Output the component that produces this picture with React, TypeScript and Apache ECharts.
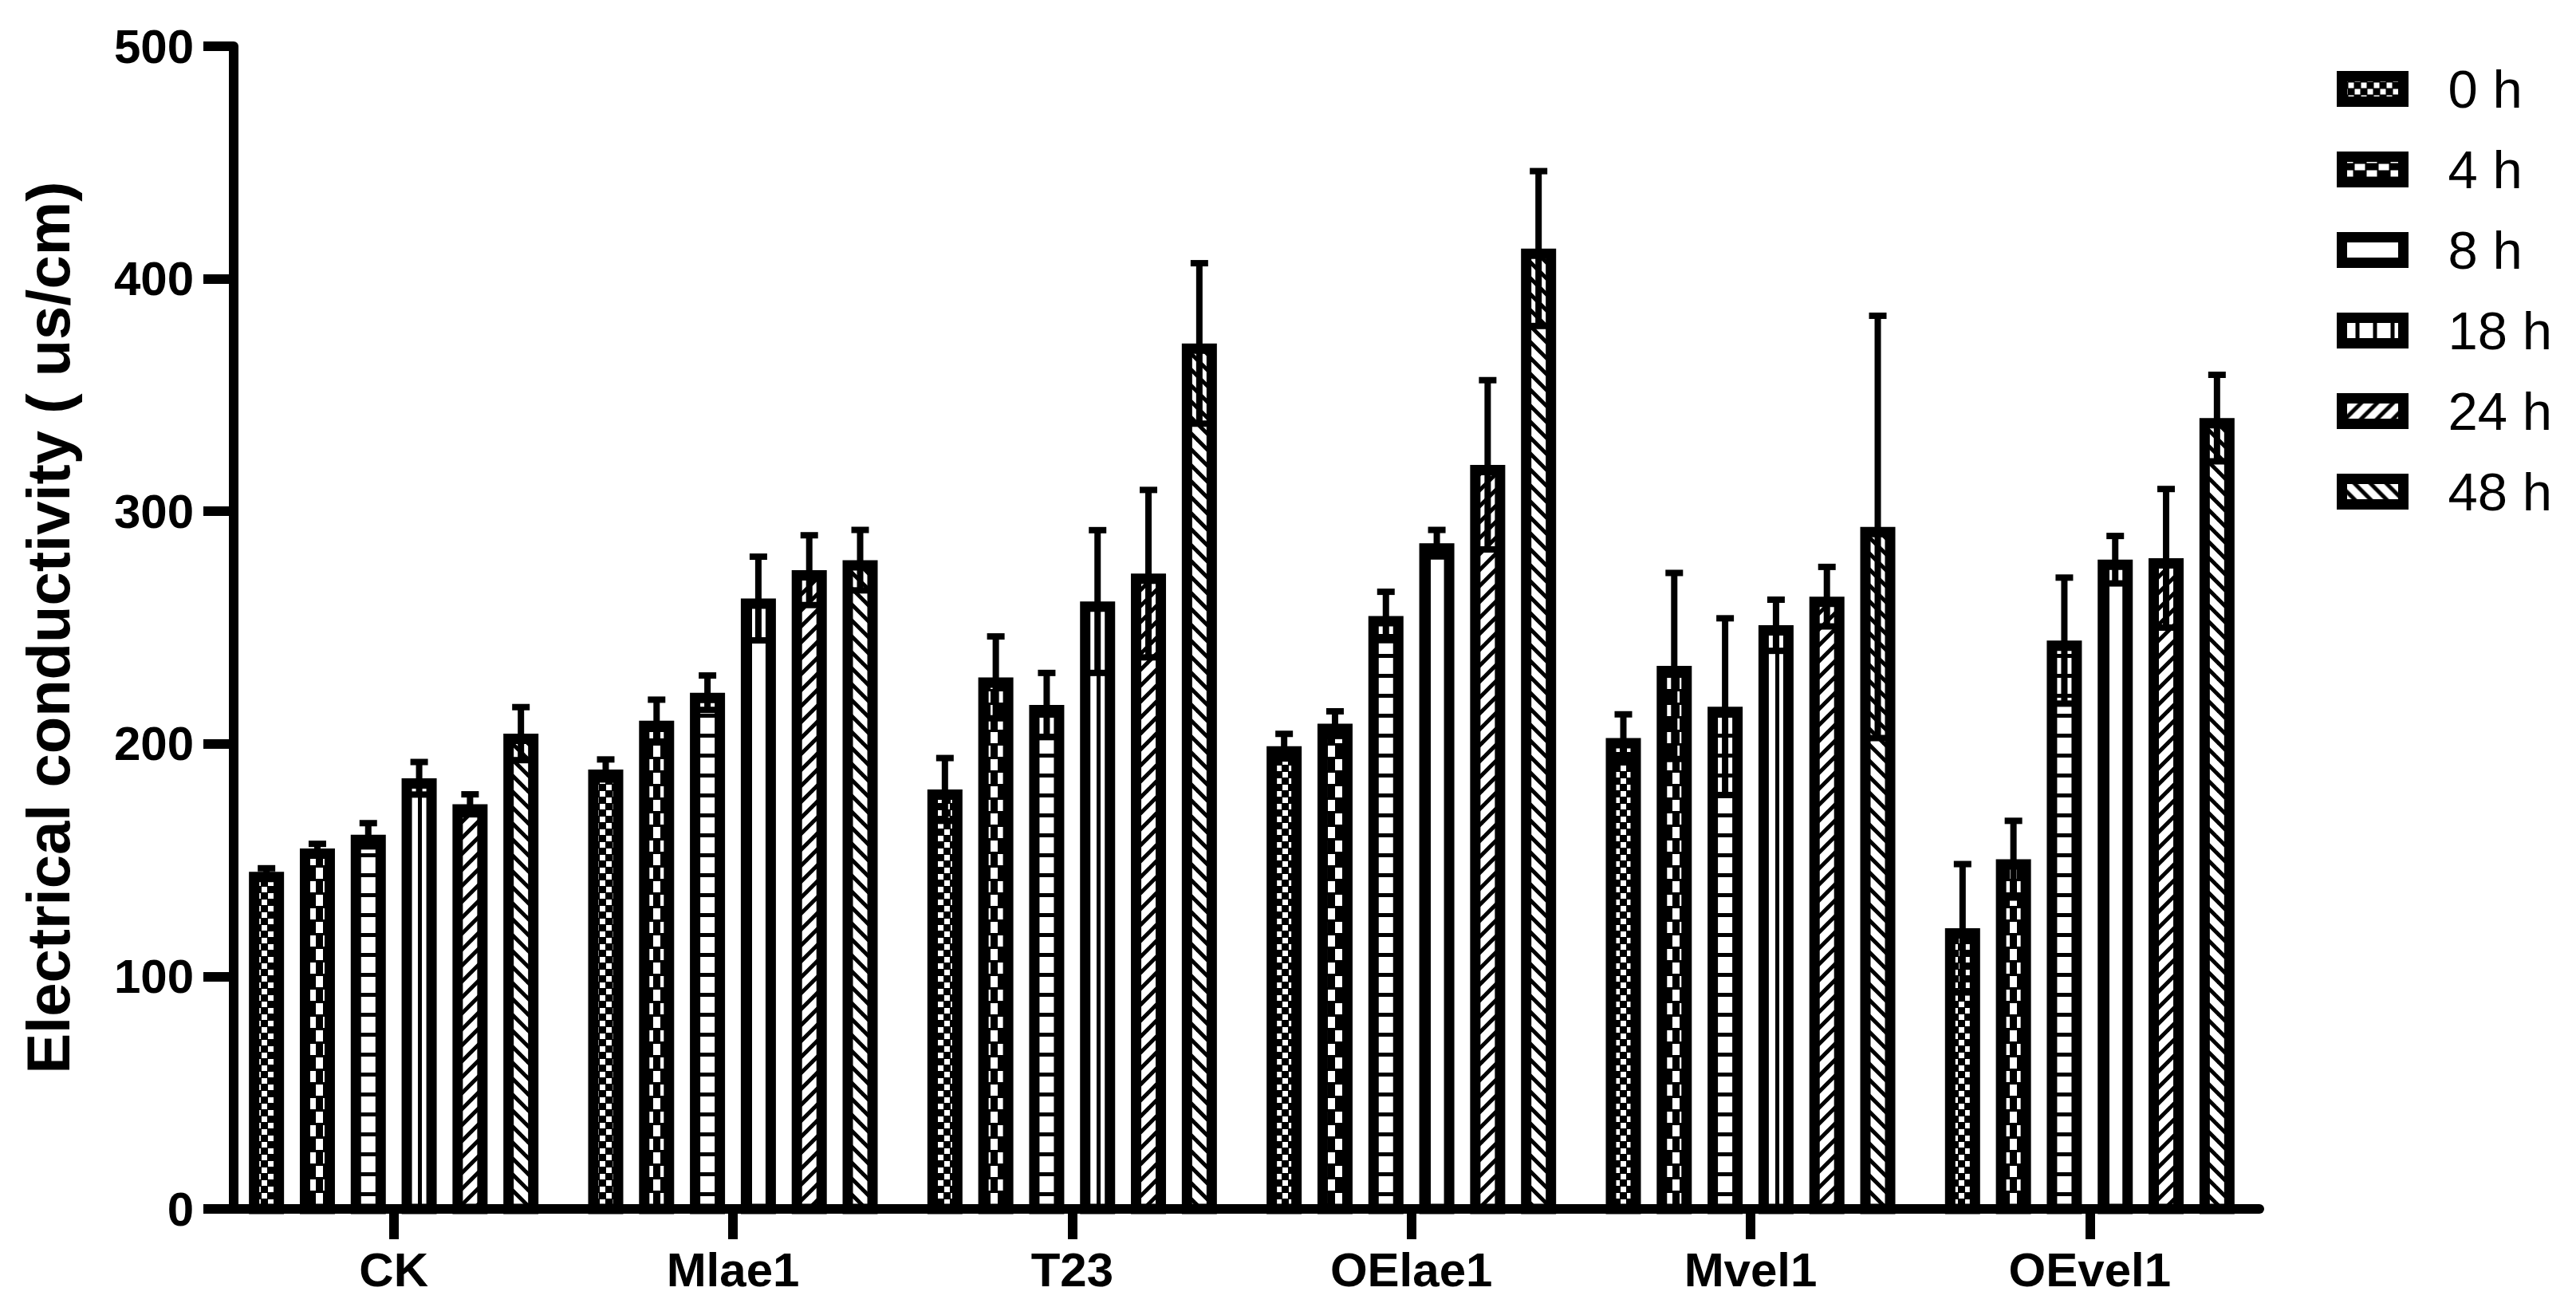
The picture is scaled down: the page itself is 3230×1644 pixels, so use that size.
import React, { useEffect, useRef } from "react";
import * as echarts from "echarts";

// ---------------- data ----------------
const categories = ["CK", "Mlae1", "T23", "OElae1", "Mvel1", "OEvel1"];
const timePoints = ["0 h", "4 h", "8 h", "18 h", "24 h", "48 h"];

const yMin = 0;
const yMax = 500;
const yInterval = 100;

const mean0h = [145, 189, 180.4, 199, 202.5, 120.7];
const mean4h = [155, 210, 228.6, 208.7, 233.5, 150.4];
const mean8h = [160.9, 222, 216.7, 255, 216, 244.4];
const mean18h = [185.2, 262.5, 261.2, 286.3, 251, 279.2];
const mean24h = [174, 274.7, 273.2, 320, 263.3, 279.8];
const mean48h = [204.4, 279, 372.2, 413, 293.3, 340.1];

const sd0h = [1.5, 4.3, 13.5, 5.3, 10.2, 27.6];
const sd4h = [2, 9, 17.6, 5.3, 40, 16.5];
const sd8h = [5, 7.4, 13.8, 10.4, 38, 27.1];
const sd18h = [7, 18, 30.7, 5.7, 11, 10.2];
const sd24h = [4.3, 15, 36, 36.4, 12.8, 29.8];
const sd48h = [11.4, 13, 34.5, 33.3, 90.8, 18.6];

const means = [mean0h, mean4h, mean8h, mean18h, mean24h, mean48h];
const sds = [sd0h, sd4h, sd8h, sd18h, sd24h, sd48h];

// ---------------- style constants ----------------
const FONT = "'Liberation Sans', Arial, Helvetica, sans-serif";
const BAND_PX = 425.3;
const SLOT = 63.8 / BAND_PX;
const OUTER = 44 / BAND_PX;
const CAP = 22 / BAND_PX;
const BORDER = 13;
const ERR_W = 8;

type Draw = (ctx: CanvasRenderingContext2D, w: number, h: number) => void;

function tile(w: number, h: number, bg: string, draw: Draw) {
  const c = document.createElement("canvas");
  c.width = w;
  c.height = h;
  const ctx = c.getContext("2d")!;
  ctx.fillStyle = bg;
  ctx.fillRect(0, 0, w, h);
  ctx.fillStyle = "#000";
  ctx.strokeStyle = "#000";
  draw(ctx, w, h);
  return { image: c.toDataURL(), imageWidth: w, imageHeight: h, repeat: "repeat" };
}

function diag(ctx: CanvasRenderingContext2D, up: boolean, lw: number) {
  ctx.lineWidth = lw;
  ctx.lineCap = "butt";
  const cs = up ? [-10, 10, 30, 50] : [-30, -10, 10, 30];
  for (const c of cs) {
    ctx.beginPath();
    if (up) {
      ctx.moveTo(c + 10, -10);
      ctx.lineTo(-10, c + 10);
    } else {
      ctx.moveTo(c - 10, -10);
      ctx.lineTo(c + 30, 30);
    }
    ctx.stroke();
  }
}

function makePatterns() {
  const bar = [
    tile(16, 16, "#000", (ctx) => {
      ctx.fillStyle = "#fff";
      ctx.fillRect(0, 0, 7, 7);
      ctx.fillRect(8, 8, 7, 7);
    }),
    tile(18, 34, "#000", (ctx) => {
      ctx.fillStyle = "#fff";
      ctx.fillRect(0, 0, 9, 14);
      ctx.fillRect(9, 17, 9, 14);
    }),
    tile(4, 25, "#fff", (ctx) => {
      ctx.fillRect(0, 20, 4, 5);
    }),
    tile(23, 4, "#fff", (ctx) => {
      ctx.fillRect(18, 0, 5, 4);
    }),
    tile(20, 20, "#fff", (ctx) => diag(ctx, true, 5)),
    tile(20, 20, "#fff", (ctx) => diag(ctx, false, 5)),
  ];
  const legend = [
    { ...bar[0], x: 6.5, y: 6.5 },
    {
      ...tile(30, 17, "#000", (ctx) => {
        ctx.fillStyle = "#fff";
        ctx.fillRect(1, 0, 13, 8);
        ctx.fillRect(16, 9, 13, 8);
      }),
      x: 6.5,
      y: 6.5,
    },
    "#fff" as any,
    {
      ...tile(22, 4, "#fff", (ctx) => {
        ctx.fillRect(17, 0, 5, 4);
      }),
      x: 6.5,
      y: 0,
    },
    { ...bar[4], x: 6.5, y: 6.5 },
    { ...bar[5], x: 6.5, y: 6.5 },
  ];
  return { bar, legend };
}

function buildOption() {
  const { bar, legend } = makePatterns();

  const series = timePoints.map((name, t) => ({
    name,
    type: "custom",
    coordinateSystem: "cartesian2d",
    encode: { x: 0, y: 1 },
    data: categories.map((_, c) => [c, means[t][c], sds[t][c]]),
    renderItem: (_params: any, api: any) => {
      const cat = api.value(0);
      const mean = api.value(1);
      const sd = api.value(2);
      const base = api.coord([cat, 0]);
      const top = api.coord([cat, mean]);
      const hi = api.coord([cat, mean + sd]);
      const lo = api.coord([cat, mean - sd]);
      const band = api.size([1, 0])[0];
      const cx = base[0] + (t - 2.5) * band * SLOT;
      const outer = band * OUTER;
      const rx = cx - outer / 2 + BORDER / 2;
      const ry = top[1] + BORDER / 2;
      const innerLeft = cx - outer / 2 + BORDER;
      const cap = (band * CAP) / 2;
      const fill = { ...bar[t], x: innerLeft, y: base[1] };
      const ls = { stroke: "#000", lineWidth: ERR_W, fill: "none" };
      return {
        type: "group",
        children: [
          {
            type: "rect",
            shape: { x: rx, y: ry, width: outer - BORDER, height: base[1] - ry },
            style: { fill, stroke: "#000", lineWidth: BORDER },
          },
          { type: "line", shape: { x1: cx, y1: lo[1], x2: cx, y2: hi[1] }, style: ls },
          { type: "line", shape: { x1: cx - cap, y1: hi[1], x2: cx + cap, y2: hi[1] }, style: ls },
          { type: "line", shape: { x1: cx - cap, y1: lo[1], x2: cx + cap, y2: lo[1] }, style: ls },
        ],
      };
    },
  }));

  return {
    animation: false,
    backgroundColor: "#fff",
    grid: {
      left: 281,
      top: 58,
      width: 2552,
      height: 1458,
      containLabel: false,
      outerBoundsMode: "none",
    },
    legend: {
      orient: "vertical",
      left: 2930,
      top: 78,
      padding: 0,
      itemWidth: 77,
      itemHeight: 32,
      itemGap: 34,
      selectedMode: false,
      icon: "rect",
      textStyle: {
        fontFamily: FONT,
        fontSize: 67,
        fontWeight: "normal",
        color: "#000",
        lineHeight: 60,
        padding: [0, 0, 0, 51],
      },
      data: timePoints.map((n, i) => ({
        name: n,
        icon: "rect",
        itemStyle: { color: legend[i], borderColor: "#000", borderWidth: BORDER, opacity: 1 },
      })),
    },
    xAxis: {
      type: "category",
      data: categories,
      boundaryGap: true,
      axisLine: { show: true, lineStyle: { color: "#000", width: 12 } },
      axisTick: { show: true, alignWithLabel: true, length: 38, lineStyle: { color: "#000", width: 12 } },
      axisLabel: {
        color: "#000",
        fontFamily: FONT,
        fontWeight: "bold",
        fontSize: 60,
        lineHeight: 60,
        margin: 46,
        interval: 0,
      },
      splitLine: { show: false },
    },
    yAxis: {
      type: "value",
      min: yMin,
      max: yMax,
      interval: yInterval,
      offset: -12,
      axisLine: { show: true, lineStyle: { color: "#000", width: 12 } },
      axisTick: { show: true, length: 38, lineStyle: { color: "#000", width: 12 } },
      axisLabel: {
        color: "#000",
        fontFamily: FONT,
        fontWeight: "bold",
        fontSize: 60,
        margin: 50,
      },
      splitLine: { show: false },
      name: "Electrical conductivity ( us/cm)",
      nameLocation: "middle",
      nameGap: 195,
      nameTextStyle: {
        color: "#000",
        fontFamily: FONT,
        fontWeight: "bold",
        fontSize: 76,
        lineHeight: 76,
      },
    },
    series,
  };
}

export default function App() {
  const ref = useRef<HTMLDivElement>(null);
  useEffect(() => {
    const chart = echarts.init(ref.current!, null, { renderer: "svg" });
    chart.setOption(buildOption() as any);
    return () => chart.dispose();
  }, []);
  return (
    <div
      ref={ref}
      style={{ position: "fixed", left: 0, top: 0, width: "3230px", height: "1644px", background: "#fff" }}
    />
  );
}
